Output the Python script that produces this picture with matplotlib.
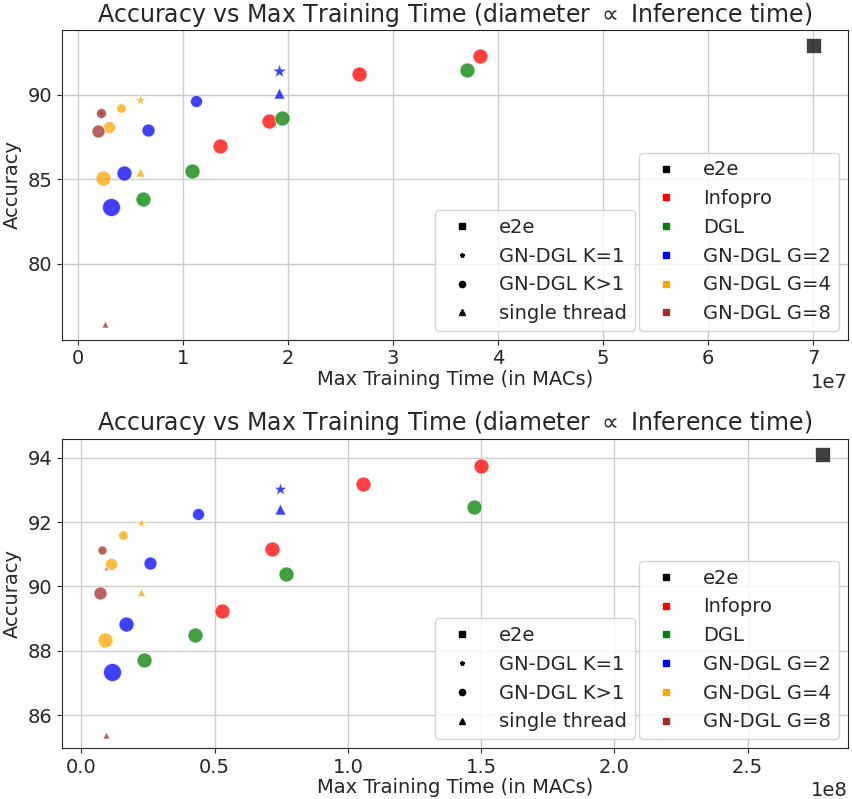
import matplotlib
matplotlib.use("Agg")
import matplotlib.pyplot as plt
from matplotlib.lines import Line2D

plt.rcParams['text.color'] = '0.15'
plt.rcParams['axes.labelcolor'] = '0.15'
plt.rcParams['xtick.color'] = '0.15'
plt.rcParams['ytick.color'] = '0.15'

# group -> colour
group_colors = {
    'e2e': 'black',
    'Infopro': 'red',
    'DGL': 'green',
    'GN-DGL G=2': 'blue',
    'GN-DGL G=4': 'orange',
    'GN-DGL G=8': 'brown',
}
kind_markers = {'e2e': 's', 'K=1': '*', 'K>1': 'o', 'single': '^'}

# ---- top panel ----
top_time = [7.0e7, 3.825e7, 2.68e7, 1.82e7, 1.35e7, 3.70e7, 1.94e7, 1.09e7, 0.616e7,
            1.914e7, 1.91e7, 1.12e7, 0.667e7, 0.438e7, 0.317e7,
            0.594e7, 0.594e7, 0.41e7, 0.30e7, 0.24e7,
            0.22e7, 0.22e7, 0.19e7, 0.257e7]
top_acc = [92.96, 92.30, 91.23, 88.45, 86.98, 91.43, 88.59, 85.50, 83.85,
           91.37, 90.10, 89.64, 87.92, 85.34, 83.33,
           89.66, 85.40, 89.22, 88.08, 85.08,
           88.90, 88.93, 87.82, 76.40]
top_diam = [15, 15, 15, 15, 15, 15, 15, 15, 15,
            12, 11, 12, 13, 15, 18,
            9, 9, 9.5, 12, 15,
            6, 10, 13, 7]
top_group = ['e2e', 'Infopro', 'Infopro', 'Infopro', 'Infopro', 'DGL', 'DGL', 'DGL', 'DGL',
             'GN-DGL G=2', 'GN-DGL G=2', 'GN-DGL G=2', 'GN-DGL G=2', 'GN-DGL G=2', 'GN-DGL G=2',
             'GN-DGL G=4', 'GN-DGL G=4', 'GN-DGL G=4', 'GN-DGL G=4', 'GN-DGL G=4',
             'GN-DGL G=8', 'GN-DGL G=8', 'GN-DGL G=8', 'GN-DGL G=8']
top_kind = ['e2e', 'K>1', 'K>1', 'K>1', 'K>1', 'K>1', 'K>1', 'K>1', 'K>1',
            'K=1', 'single', 'K>1', 'K>1', 'K>1', 'K>1',
            'K=1', 'single', 'K>1', 'K>1', 'K>1',
            'K=1', 'K>1', 'K>1', 'single']

# ---- bottom panel ----
bot_time = [2.778e8, 1.499e8, 1.055e8, 0.716e8, 0.528e8, 1.474e8, 0.767e8, 0.428e8, 0.236e8,
            0.745e8, 0.745e8, 0.439e8, 0.259e8, 0.166e8, 0.116e8,
            0.224e8, 0.224e8, 0.156e8, 0.110e8, 0.089e8,
            0.091e8, 0.079e8, 0.068e8, 0.093e8]
bot_acc = [94.11, 93.74, 93.19, 91.16, 89.23, 92.47, 90.38, 88.48, 87.71,
           93.04, 92.40, 92.26, 90.74, 88.82, 87.34,
           91.98, 89.82, 91.59, 90.70, 88.34,
           90.55, 91.13, 89.81, 85.40]
bot_diam = [15, 15, 15, 15, 15, 15, 15, 15, 15,
            11, 11, 12, 13, 15, 18,
            8, 8, 9.5, 12, 15,
            5, 9, 13, 7]
bot_group = top_group
bot_kind = top_kind

ALPHA = 0.75


def draw_panel(ax, times, acc, diam, groups, kinds):
    for t, a, d, g, k in zip(times, acc, diam, groups, kinds):
        size = (d * 0.72) ** 2
        if k == 'K=1':
            size *= 1.6
        ax.scatter(t, a, s=size, c=group_colors[g], marker=kind_markers[k],
                   alpha=ALPHA, edgecolors='white', linewidths=0.6, zorder=3)
    ax.grid(True, color='#cccccc', linewidth=1)
    ax.set_axisbelow(True)
    for sp in ax.spines.values():
        sp.set_color('0.15')
    ax.set_title('Accuracy vs Max Training Time (diameter $\\propto$ Inference time)', fontsize=17)
    ax.set_xlabel('Max Training Time (in MACs)', fontsize=14, labelpad=1)
    ax.set_ylabel('Accuracy', fontsize=14)
    ax.tick_params(labelsize=14)
    ax.xaxis.get_offset_text().set_fontsize(14)

    kind_handles = [
        Line2D([], [], marker='s', color='black', linestyle='', markersize=4, label='e2e'),
        Line2D([], [], marker='*', color='black', linestyle='', markersize=3.5, label='GN-DGL K=1'),
        Line2D([], [], marker='o', color='black', linestyle='', markersize=4.5, label='GN-DGL K>1'),
        Line2D([], [], marker='^', color='black', linestyle='', markersize=4.5, label='single thread'),
    ]
    group_handles = [
        Line2D([], [], marker='s', color=c, linestyle='', markersize=4, label=name)
        for name, c in group_colors.items()
    ]
    leg2 = ax.legend(handles=group_handles, loc='lower right', fontsize=14,
                     borderaxespad=0.45, handletextpad=0.9)
    ax.add_artist(leg2)
    ax.legend(handles=kind_handles, loc='lower right', fontsize=14,
              bbox_to_anchor=(0.74, 0.0), borderaxespad=0.45, handletextpad=0.9)


fig, (ax1, ax2) = plt.subplots(2, 1, figsize=(8.52, 7.99), dpi=100)
fig.subplots_adjust(left=0.073, right=0.995, top=0.962, bottom=0.064, hspace=0.32)

draw_panel(ax1, top_time, top_acc, top_diam, top_group, top_kind)
ax1.set_xlim(-0.15e7, 7.33e7)
ax1.set_ylim(75.5, 93.8)
ax1.set_yticks([80, 85, 90])

draw_panel(ax2, bot_time, bot_acc, bot_diam, bot_group, bot_kind)
ax2.set_xlim(-0.072e8, 2.876e8)
ax2.set_ylim(84.99, 94.59)
ax2.set_yticks([86, 88, 90, 92, 94])

fig.savefig('out.png', dpi=100)
